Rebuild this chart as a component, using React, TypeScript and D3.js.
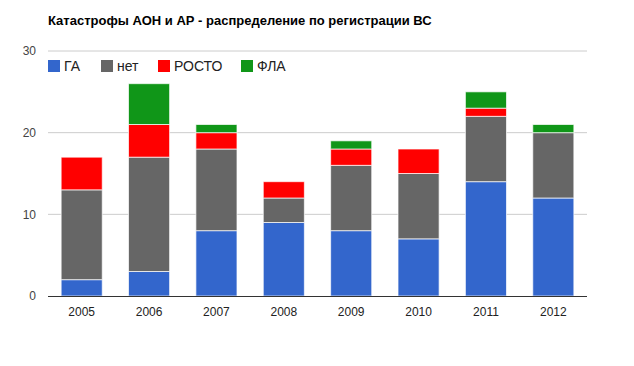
import React from 'react';
import * as d3 from 'd3';

const years = ['2005', '2006', '2007', '2008', '2009', '2010', '2011', '2012'];
const seriesNames = ['ГА', 'нет', 'РОСТО', 'ФЛА'];
const ga = [2, 3, 8, 9, 8, 7, 14, 12];
const net = [11, 14, 10, 3, 8, 8, 8, 8];
const rosto = [4, 4, 2, 2, 2, 3, 1, 0];
const fla = [0, 5, 1, 0, 1, 0, 2, 1];
const yTicks = [0, 10, 20, 30];
const colors = ['#3366cc', '#666666', '#ff0000', '#109618'];

const W = 634;
const H = 366;
const margin = { top: 51, right: 47, bottom: 70, left: 48 };

export default function App() {
  const width = W - margin.left - margin.right;
  const height = H - margin.top - margin.bottom;

  const x = d3.scaleBand().domain(years).range([0, width]).paddingInner(0.39).paddingOuter(0.195);
  const y = d3.scaleLinear().domain([0, 30]).range([height, 0]);

  const rows = years.map((yr, i) => ({ year: yr, 'ГА': ga[i], 'нет': net[i], 'РОСТО': rosto[i], 'ФЛА': fla[i] }));
  const stacked = d3.stack<any>().keys(seriesNames)(rows);

  const legendX = [0, 53, 110, 193];

  return (
    <svg width={W} height={H} style={{ position: 'absolute', left: 0, top: 0, fontFamily: 'Arial, "Liberation Sans", sans-serif' }}>
      <rect width={W} height={H} fill="#fff" />
      <text x={48} y={25} fontSize={13} fontWeight="bold" fill="#000">
        Катастрофы АОН и АР - распределение по регистрации ВС
      </text>
      <g transform={`translate(${margin.left},${margin.top})`}>
        {yTicks.map((t) => (
          <g key={t}>
            {t > 0 && <line x1={0} x2={width} y1={y(t)} y2={y(t)} stroke="#cccccc" />}
            <text x={-12} y={y(t)} dy="0.35em" textAnchor="end" fontSize={12} fill="#444">{t}</text>
          </g>
        ))}
        {stacked.map((s, si) => (
          <g key={s.key} fill={colors[si]}>
            {s.map((d, i) => {
              const h = y(d[0]) - y(d[1]);
              if (h <= 0) return null;
              return (
                <rect key={i} x={x(years[i])} y={y(d[1])} width={x.bandwidth()} height={h}
                  stroke="#fff" strokeWidth={1} strokeOpacity={0.7} />
              );
            })}
          </g>
        ))}
        <line x1={0} x2={width} y1={y(0) + 0.5} y2={y(0) + 0.5} stroke="#333" />
        {years.map((yr) => (
          <text key={yr} x={(x(yr) as number) + x.bandwidth() / 2} y={height + 20} textAnchor="middle" fontSize={12} fill="#222">{yr}</text>
        ))}
        <g transform="translate(0,9)">
          {seriesNames.map((n, i) => (
            <g key={n} transform={`translate(${legendX[i]},0)`}>
              <rect x={0} y={0} width={12} height={12} fill={colors[i]} />
              <text x={16} y={11} fontSize={14} fill="#222">{n}</text>
            </g>
          ))}
        </g>
      </g>
    </svg>
  );
}
